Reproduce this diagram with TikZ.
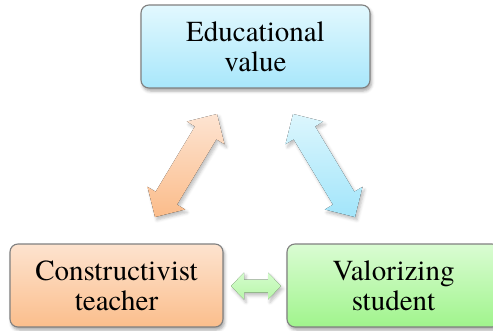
\documentclass[tikz,border=0pt]{standalone}
\usepackage{fontspec}
\setmainfont{texgyretermes-regular.otf}
\newfontfamily\labelface{texgyretermes-regular.otf}
\usetikzlibrary{calc,shadows.blur}

% fills
\definecolor{eduTop}{RGB}{226,248,254}
\definecolor{eduBot}{RGB}{168,231,251}
\definecolor{conTop}{RGB}{253,227,207}
\definecolor{conBot}{RGB}{251,190,140}
\definecolor{valTop}{RGB}{218,252,211}
\definecolor{valBot}{RGB}{160,244,140}
\definecolor{boxLine}{RGB}{128,128,128}
\definecolor{oaTop}{RGB}{253,228,210}
\definecolor{oaBot}{RGB}{251,188,138}
\definecolor{baTop}{RGB}{220,246,253}
\definecolor{baBot}{RGB}{162,229,250}
\definecolor{gaTop}{RGB}{212,252,204}
\definecolor{gaBot}{RGB}{184,246,170}

% double-headed block arrow from #1 to #2:
% #3 half shaft width, #4 half head width, #5 head length, #6 fill style
\newcommand\blockarrow[6]{%
  \coordinate (#1-n1) at ($(#1)!#5!(#2)$);
  \coordinate (#1-n2) at ($(#2)!#5!(#1)$);
  \fill[#6] (#1) -- ($(#1-n1)!#4!90:(#2)$) -- ($(#1-n1)!#3!90:(#2)$)
    -- ($(#1-n2)!#3!-90:(#1)$) -- ($(#1-n2)!#4!-90:(#1)$) -- (#2)
    -- ($(#1-n2)!#4!90:(#1)$) -- ($(#1-n2)!#3!90:(#1)$)
    -- ($(#1-n1)!#3!-90:(#2)$) -- ($(#1-n1)!#4!-90:(#2)$) -- cycle;
}

\tikzset{
  box/.style={draw=boxLine, line width=1.1pt, rounded corners=8pt,
    minimum height=83pt, align=center, inner sep=0pt,
    font=\labelface\fontsize{29}{30}\selectfont,
    blur shadow={shadow xshift=1.5pt, shadow yshift=-3pt,
      shadow blur radius=3pt, shadow opacity=35}},
  arrowshadow/.style={blur shadow={shadow xshift=2pt, shadow yshift=-3pt,
      shadow blur radius=3pt, shadow opacity=25}}
}

\begin{document}
\begin{tikzpicture}[x=1pt, y=-1pt]
  \useasboundingbox (0,0) rectangle (493,330);
  \clip (0,0) rectangle (493,330);

  % the three concept boxes
  \node[box, minimum width=229pt, top color=eduTop, bottom color=eduBot]
    (edu) at (255.5,46.5) {Educational\\value};
  \node[box, minimum width=213pt, top color=conTop, bottom color=conBot]
    (con) at (116.5,285.5) {Constructivist\\teacher};
  \node[box, minimum width=213pt, top color=valTop, bottom color=valBot]
    (val) at (393.5,285.5) {Valorizing\\student};

  % arrow end points between the boxes
  \coordinate (oa) at (217,114);
  \coordinate (ob) at (155,217);
  \coordinate (ba) at (293,114);
  \coordinate (bb) at (355,217);
  \coordinate (ga) at (231,286);
  \coordinate (gb) at (281,286);

  \blockarrow{oa}{ob}{12.5pt}{22pt}{22pt}{top color=oaTop, bottom color=oaBot, arrowshadow}
  \blockarrow{ba}{bb}{12.5pt}{22pt}{22pt}{top color=baTop, bottom color=baBot, arrowshadow}
  \blockarrow{ga}{gb}{6.5pt}{13.5pt}{13pt}{top color=gaTop, bottom color=gaBot, arrowshadow}
\end{tikzpicture}
\end{document}
